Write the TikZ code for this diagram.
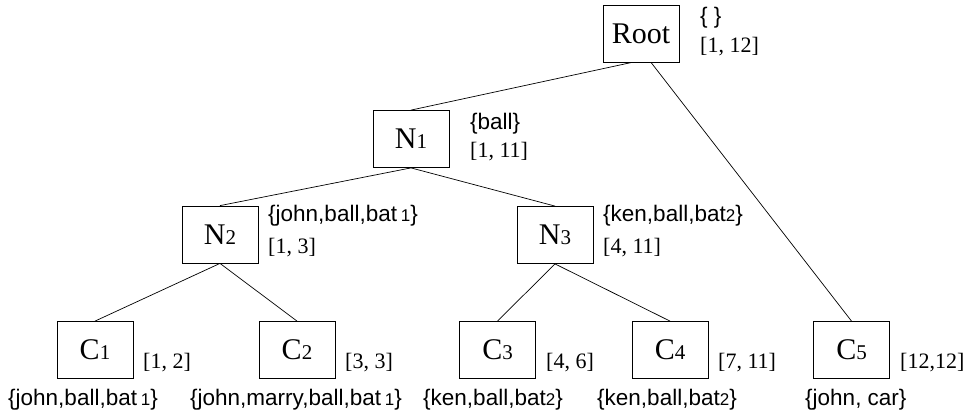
\documentclass[tikz,border=0pt]{standalone}
\usepackage{fontspec}
\setmainfont{Liberation Serif}
\setsansfont{Liberation Sans}
\begin{document}
\begin{tikzpicture}[x=1pt,y=-1pt,
  treebox/.style={draw,line width=0.8pt,minimum width=76pt,minimum height=57pt,inner sep=0pt,
    font=\fontsize{30}{32}\selectfont},
  rng/.style={anchor=west,inner sep=0pt,font=\fontsize{22}{24}\selectfont},
  setlab/.style={anchor=west,inner sep=0pt,font=\sffamily\fontsize{22.5}{24}\selectfont},
  edge/.style={line width=0.7pt}]
\useasboundingbox (0,0) rectangle (969,417);
\newcommand{\dg}[1]{{\fontsize{21}{23}\selectfont #1}}
\newcommand{\sdg}[1]{{\fontsize{17}{19}\selectfont #1}}
% boxes
\node[treebox] (root) at (641,33.5) {Root};
\node[treebox] (n1) at (411,139) {N\dg{1}};
\node[treebox] (n2) at (220,234.5) {N\dg{2}};
\node[treebox] (n3) at (555,235) {N\dg{3}};
\node[treebox] (c1) at (95,350) {C\dg{1}};
\node[treebox] (c2) at (297,350) {C\dg{2}};
\node[treebox] (c3) at (497.5,350) {C\dg{3}};
\node[treebox] (c4) at (670,350) {C\dg{4}};
\node[treebox] (c5) at (851.5,350) {C\dg{5}};
% edges
\draw[edge] ([xshift=-9pt]root.south) -- (n1.north);
\draw[edge] ([xshift=10pt]root.south) -- (c5.north);
\draw[edge] (n1.south) -- (n2.north);
\draw[edge] (n1.south) -- (n3.north);
\draw[edge] (n2.south) -- (c1.north);
\draw[edge] (n2.south) -- (c2.north);
\draw[edge] (n3.south) -- (c3.north);
\draw[edge] (n3.south) -- (c4.north);
% labels
\node[setlab] (lroot) at (700,18) {\{ \}};
\node[rng] (rroot) at (700,47) {[1, 12]};
\node[setlab] (ln1) at (470,124) {\{ball\}};
\node[rng] (rn1) at (470,152) {[1, 11]};
\node[setlab] (ln2) at (268,216) {\{john,ball,bat\,\sdg{1}\}};
\node[rng] (rn2) at (268,248) {[1, 3]};
\node[setlab] (ln3) at (603,216) {\{ken,ball,bat\sdg{2}\}};
\node[rng] (rn3) at (603,248) {[4, 11]};
\node[rng] (rc1) at (143,363) {[1, 2]};
\node[rng] (rc2) at (345,363) {[3, 3]};
\node[rng] (rc3) at (546,363) {[4, 6]};
\node[rng] (rc4) at (718,363) {[7, 11]};
\node[rng] (rc5) at (900,363) {[12,12]};
\node[setlab] (lc1) at (8,400) {\{john,ball,bat\,\sdg{1}\}};
\node[setlab] (lc2) at (190,400) {\{john,marry,ball,bat\,\sdg{1}\}};
\node[setlab] (lc3) at (423,400) {\{ken,ball,bat\sdg{2}\}};
\node[setlab] (lc4) at (597,400) {\{ken,ball,bat\sdg{2}\}};
\node[setlab] (lc5) at (805,400) {\{john, car\}};
\end{tikzpicture}
\end{document}
